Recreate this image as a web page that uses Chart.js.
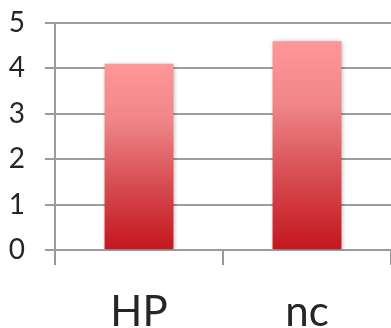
<!DOCTYPE html>
<html>
<head>
<meta charset="utf-8">
<script src="https://cdn.jsdelivr.net/npm/chart.js@4/dist/chart.umd.min.js"></script>
<style>
  html, body { margin: 0; padding: 0; background: #fff; }
  #wrap { width: 391px; height: 328px; }
</style>
</head>
<body>
<div id="wrap"><canvas id="myChart"></canvas></div>
<script>
const categories = ["HP", "nc"];
const values = [4.1, 4.6];
const yTicks = [0, 1, 2, 3, 4, 5];

// soft shadow behind the bars, like the office chart
const barShadow = {
  id: "barShadow",
  beforeDatasetsDraw(chart) {
    const c = chart.ctx;
    c.save();
    c.shadowColor = "rgba(0,0,0,0.35)";
    c.shadowBlur = 5;
    c.shadowOffsetX = 1;
    c.shadowOffsetY = 1;
  },
  afterDatasetsDraw(chart) {
    chart.ctx.restore();
  }
};

function barFill(context) {
  const chart = context.chart;
  if (!chart.chartArea) return "#e05a5e";
  const yScale = chart.scales.y;
  const v = context.parsed ? context.parsed.y : values[context.dataIndex];
  const top = yScale.getPixelForValue(v);
  const bottom = yScale.getPixelForValue(0);
  const g = chart.ctx.createLinearGradient(0, top, 0, bottom);
  g.addColorStop(0, "#ff9698");
  g.addColorStop(0.3, "#f08688");
  g.addColorStop(0.65, "#d64c51");
  g.addColorStop(1, "#c4161e");
  return g;
}

var ctx = document.getElementById("myChart").getContext("2d");
var myChart = new Chart(ctx, {
  type: "bar",
  data: {
    labels: categories,
    datasets: [
      {
        data: values,
        backgroundColor: barFill,
        borderWidth: 0,
        categoryPercentage: 1,
        barPercentage: 0.41,
      },
    ],
  },
  options: {
    responsive: true,
    maintainAspectRatio: false,
    animation: false,
    layout: { padding: { left: 0, top: 23, right: 0, bottom: 0 } },
    plugins: { legend: { display: false }, tooltip: { enabled: false } },
    scales: {
      x: {
        offset: true,
        afterFit(axis) { axis.height = 78; },
        grid: {
          offset: true,
          drawOnChartArea: false,
          tickLength: 15,
          color: "#999",
          lineWidth: 2,
        },
        border: { display: false },
        ticks: {
          color: "#262626",
          padding: 22,
          font: { family: "Lato", size: 42 },
        },
      },
      y: {
        min: 0,
        max: 5,
        afterFit(axis) {
          axis.width = 55;
          axis.paddingTop = 0;
          axis.paddingBottom = 0;
        },
        afterBuildTicks(axis) {
          axis.ticks = yTicks.map(v => ({ value: v }));
        },
        grid: {
          color: "#9c9c9c",
          lineWidth: 2,
          tickLength: 10,
        },
        border: { color: "#9c9c9c", width: 2 },
        ticks: {
          color: "#262626",
          padding: 20,
          font: { family: "Lato", size: 28 },
        },
      },
    },
  },
  plugins: [barShadow],
});
</script>
</body>
</html>
